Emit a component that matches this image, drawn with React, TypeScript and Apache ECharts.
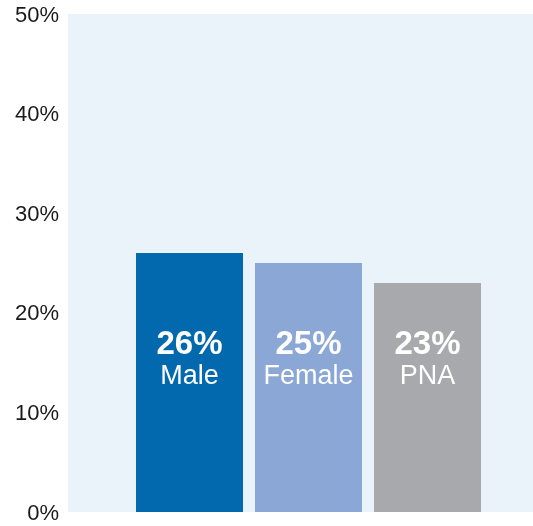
import React, { useEffect, useRef } from "react";
import * as echarts from "echarts";

const categories = ["Male", "Female", "PNA"];
const values = [26, 25, 23];
const barColors = ["#0369AF", "#8AA7D6", "#A8A9AD"];
const yTicks = [0, 10, 20, 30, 40, 50];

export default function App() {
  const ref = useRef<HTMLDivElement>(null);
  useEffect(() => {
    if (!ref.current) return;
    const chart = echarts.init(ref.current, undefined, { renderer: "svg" });
    const font = "'Liberation Sans', Arial, Helvetica, sans-serif";
    chart.setOption({
      animation: false,
      textStyle: { fontFamily: font },
      grid: [
        { left: 68, right: 0, top: 14, bottom: 14, show: true, backgroundColor: "#EBF3FA", borderWidth: 0 },
        { left: 130, right: 46, top: 14, bottom: 14 },
      ],
      xAxis: [
        { gridIndex: 0, type: "value", show: false, min: 0, max: 1 },
        { gridIndex: 1, type: "category", data: categories, show: false },
      ],
      yAxis: [
        {
          gridIndex: 0,
          type: "value",
          min: yTicks[0],
          max: yTicks[yTicks.length - 1],
          interval: 10,
          axisLine: { show: false },
          axisTick: { show: false },
          splitLine: { show: false },
          axisLabel: { formatter: "{value}%", fontSize: 22, color: "#1a1a1a", margin: 9, fontFamily: font },
        },
        { gridIndex: 1, type: "value", min: 0, max: 50, show: false, splitLine: { show: false } },
      ],
      series: [
        {
          type: "bar",
          xAxisIndex: 1,
          yAxisIndex: 1,
          barWidth: 107,
          data: values.map((v, i) => ({ value: v, itemStyle: { color: barColors[i] } })),
          label: {
            show: true,
            position: "insideBottom",
            distance: 121,
            formatter: (p: any) => `{v|${p.value}%}\n{n|${p.name}}`,
            rich: {
              v: { fontSize: 33, fontWeight: "bold", color: "#fff", lineHeight: 34, fontFamily: font },
              n: { fontSize: 27, color: "#fff", lineHeight: 32, fontFamily: font },
            },
          },
        },
      ],
    });
    return () => chart.dispose();
  }, []);
  return <div ref={ref} style={{ position: "fixed", left: 0, top: 0, width: 533, height: 526 }} />;
}
